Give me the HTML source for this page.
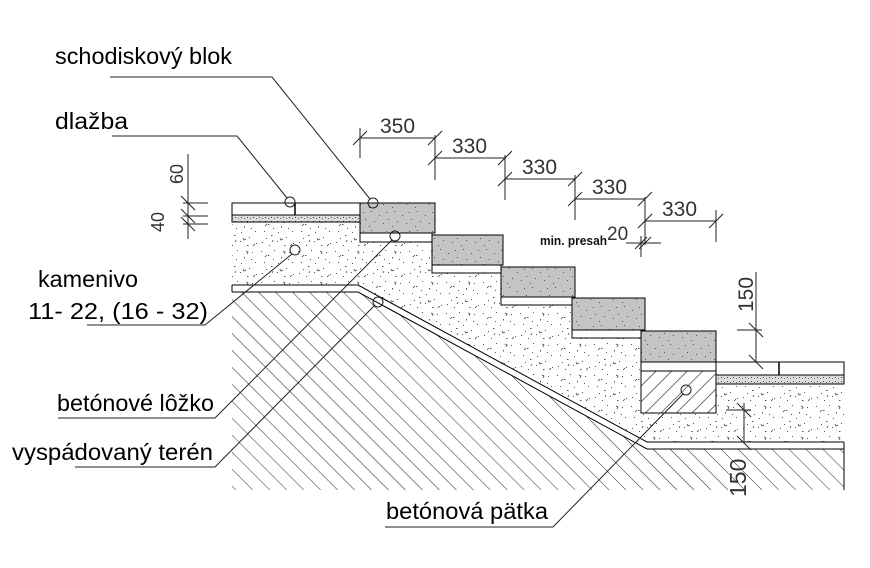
<!DOCTYPE html>
<html><head><meta charset="utf-8"><style>
html,body{margin:0;padding:0;background:#fff;width:870px;height:568px;overflow:hidden}
svg{display:block}
.lab{font-family:"Liberation Sans",sans-serif;font-size:23px;fill:#000}
.dim{font-family:"Liberation Sans",sans-serif;font-size:21px;fill:#333;font-weight:normal}
</style></head><body>
<svg width="870" height="568" viewBox="0 0 870 568" xmlns="http://www.w3.org/2000/svg">
<defs>
<pattern id="hatch" width="12" height="12" patternUnits="userSpaceOnUse" patternTransform="rotate(-45)">
<line x1="0" y1="0" x2="0" y2="12" stroke="#222" stroke-width="1"/>
</pattern>
<pattern id="hatch2" width="11" height="11" patternUnits="userSpaceOnUse" patternTransform="rotate(45)">
<line x1="0" y1="0" x2="0" y2="11" stroke="#111" stroke-width="1.2"/>
</pattern>
<pattern id="grav" width="37" height="31" patternUnits="userSpaceOnUse">
<rect width="37" height="31" fill="#fff"/>
<g fill="#555">
<rect x="2" y="3" width="1" height="1"/><rect x="9" y="7" width="1.5" height="1"/><rect x="15" y="2" width="1" height="1"/>
<rect x="22" y="9" width="1" height="1.5"/><rect x="30" y="4" width="1" height="1"/><rect x="5" y="14" width="1" height="1"/>
<rect x="12" y="18" width="1.5" height="1"/><rect x="19" y="15" width="1" height="1"/><rect x="27" y="20" width="1" height="1"/>
<rect x="33" y="14" width="1" height="1"/><rect x="3" y="25" width="1" height="1"/><rect x="10" y="28" width="1" height="1"/>
<rect x="18" y="24" width="1" height="1"/><rect x="25" y="28" width="1.5" height="1"/><rect x="34" y="26" width="1" height="1"/>
<rect x="7" y="21" width="1" height="1"/><rect x="29" y="11" width="1" height="1"/><rect x="14" y="11" width="1" height="1"/>
</g>
<g stroke="#444" stroke-width="0.8" fill="none">
<path d="M24 3 l2 1 l-1 2"/><path d="M6 9 l2 -2"/><path d="M21 21 l1 2 l2 -1"/><path d="M31 29 l2 -2"/><path d="M13 25 l1 -2"/>
</g>
</pattern>
<pattern id="fine" width="6" height="4" patternUnits="userSpaceOnUse">
<rect width="6" height="4" fill="#ddd"/><rect x="1" y="1" width="1" height="1" fill="#444"/><rect x="4" y="2" width="1" height="1" fill="#666"/>
</pattern>
<pattern id="block" width="23" height="19" patternUnits="userSpaceOnUse">
<rect width="23" height="19" fill="#c4c4c4"/>
<g fill="#555"><rect x="3" y="2" width="1" height="1"/><rect x="11" y="6" width="1" height="1"/><rect x="18" y="3" width="1" height="1"/>
<rect x="6" y="12" width="1" height="1"/><rect x="15" y="14" width="1" height="1"/><rect x="20" y="10" width="1" height="1"/><rect x="1" y="17" width="1" height="1"/></g>
</pattern>
</defs>

<polygon points="232,292 358,292 647,449 844,449 844,490 232,490" fill="url(#hatch)"/>
<polygon points="232,222 360,222 360,242 432,242 432,273 501,273 501,305 572,305 572,338 641,338 641,413 716,413 716,384 844,384 844,442 647,442 358,285 232,285" fill="url(#grav)"/>
<polyline points="232,285 358,285 647,442 844,442" fill="none" stroke="#000" stroke-width="1"/>
<polyline points="232,292 358,292 647,449 844,449" fill="none" stroke="#000" stroke-width="1"/>
<line x1="232" y1="285" x2="232" y2="292" stroke="#000"/>
<line x1="844" y1="442" x2="844" y2="490" stroke="#000"/>
<rect x="232" y="203" width="128" height="12" fill="#fff" stroke="#000"/>
<rect x="232" y="215" width="128" height="7" fill="url(#fine)" stroke="#000"/>
<line x1="295" y1="203" x2="295" y2="215" stroke="#000" stroke-width="1.5"/>
<g stroke="#000" stroke-width="1">
<rect x="360" y="203" width="75" height="30" fill="url(#block)"/>
<rect x="360" y="233" width="72" height="9" fill="#fff"/>
<rect x="432" y="235" width="71" height="30" fill="url(#block)"/>
<rect x="432" y="265" width="69" height="8" fill="#fff"/>
<rect x="501" y="267" width="74" height="30" fill="url(#block)"/>
<rect x="501" y="297" width="71" height="8" fill="#fff"/>
<rect x="572" y="298" width="73" height="32" fill="url(#block)"/>
<rect x="572" y="330" width="69" height="8" fill="#fff"/>
<rect x="641" y="331" width="75" height="31" fill="url(#block)"/>
<rect x="641" y="362" width="75" height="9" fill="#fff"/>
<rect x="641" y="371" width="75" height="42" fill="url(#hatch2)"/>
</g>
<rect x="716" y="362" width="128" height="13" fill="#fff" stroke="#000"/>
<rect x="716" y="375" width="128" height="9" fill="url(#fine)" stroke="#000"/>
<line x1="779" y1="362" x2="779" y2="375" stroke="#000" stroke-width="1.5"/>

<g stroke="#222" stroke-width="1" fill="none">
<line x1="360" y1="138" x2="435" y2="138"/><line x1="360" y1="128" x2="360" y2="158"/><line x1="353" y1="145" x2="367" y2="131"/><line x1="428" y1="145" x2="442" y2="131"/>
<line x1="435" y1="158" x2="505" y2="158"/><line x1="435" y1="135" x2="435" y2="180"/><line x1="428" y1="165" x2="442" y2="151"/><line x1="498" y1="165" x2="512" y2="151"/>
<line x1="505" y1="179" x2="575" y2="179"/><line x1="505" y1="155" x2="505" y2="200"/><line x1="498" y1="186" x2="512" y2="172"/><line x1="568" y1="186" x2="582" y2="172"/>
<line x1="575" y1="199" x2="645" y2="199"/><line x1="575" y1="175" x2="575" y2="220"/><line x1="568" y1="206" x2="582" y2="192"/><line x1="638" y1="206" x2="652" y2="192"/>
<line x1="645" y1="221" x2="716" y2="221"/><line x1="645" y1="197" x2="645" y2="245"/><line x1="716" y1="210" x2="716" y2="242"/><line x1="638" y1="228" x2="652" y2="214"/><line x1="709" y1="228" x2="723" y2="214"/>
<line x1="626" y1="243" x2="661" y2="243"/><line x1="641" y1="236" x2="641" y2="257"/><line x1="635" y1="249" x2="647" y2="237"/><line x1="639" y1="249" x2="651" y2="237"/>
<line x1="756" y1="272" x2="756" y2="362"/><line x1="737" y1="330" x2="762" y2="330"/><line x1="749" y1="323" x2="763" y2="337"/><line x1="749" y1="355" x2="763" y2="369"/>
<line x1="744" y1="403" x2="744" y2="442"/><line x1="726" y1="410" x2="751" y2="410"/><line x1="737" y1="403" x2="751" y2="417"/><line x1="737" y1="436" x2="751" y2="450"/>
<line x1="188" y1="154" x2="188" y2="239"/><line x1="183" y1="203" x2="208" y2="203"/><line x1="183" y1="216" x2="208" y2="216"/><line x1="183" y1="224" x2="208" y2="224"/>
<line x1="181" y1="196" x2="195" y2="210"/><line x1="181" y1="209" x2="195" y2="223"/><line x1="181" y1="217" x2="195" y2="231"/>
</g>
<g class="dim">
<text x="380" y="133">350</text>
<text x="452" y="153">330</text>
<text x="522" y="174">330</text>
<text x="592" y="194">330</text>
<text x="662" y="216">330</text>
<text x="607" y="240" style="font-size:19px">20</text>
<text transform="translate(753,312) rotate(-90)">150</text>
<text transform="translate(746,497) rotate(-90)" style="font-size:23px">150</text>
<text transform="translate(183,184) rotate(-90)" style="font-size:18px">60</text>
<text transform="translate(164,232) rotate(-90)" style="font-size:18px">40</text>
</g>
<text x="540" y="245" style="font-family:'Liberation Sans',sans-serif;font-size:13px;font-weight:bold;fill:#111" textLength="67" lengthAdjust="spacingAndGlyphs">min. presah</text>

<g stroke="#222" stroke-width="1" fill="none">
<polyline points="110,77 272,77 370,199"/><circle cx="373" cy="203" r="5"/>
<polyline points="112,136 237,136 287,198"/><circle cx="290" cy="202" r="5"/>
<polyline points="87,325 205,325 292,254"/><circle cx="295" cy="250" r="5"/>
<polyline points="58,418 215,418 392,240"/><circle cx="395" cy="236" r="5"/>
<polyline points="75,467 215,467 375,305"/><circle cx="378" cy="302" r="5"/>
<polyline points="385,527 553,527 683,394"/><circle cx="686" cy="390" r="5"/>
</g>
<g class="lab">
<text x="55" y="64" textLength="177" lengthAdjust="spacingAndGlyphs">schodiskový blok</text>
<text x="55" y="129" textLength="73" lengthAdjust="spacingAndGlyphs">dlažba</text>
<text x="38" y="287" textLength="100" lengthAdjust="spacingAndGlyphs">kamenivo</text>
<text x="28" y="319" textLength="180" lengthAdjust="spacingAndGlyphs">11- 22, (16 - 32)</text>
<text x="57" y="411" textLength="157" lengthAdjust="spacingAndGlyphs">betónové lôžko</text>
<text x="12" y="460" textLength="201" lengthAdjust="spacingAndGlyphs">vyspádovaný terén</text>
<text x="386" y="519" textLength="162" lengthAdjust="spacingAndGlyphs">betónová pätka</text>
</g>
</svg>
</body></html>
